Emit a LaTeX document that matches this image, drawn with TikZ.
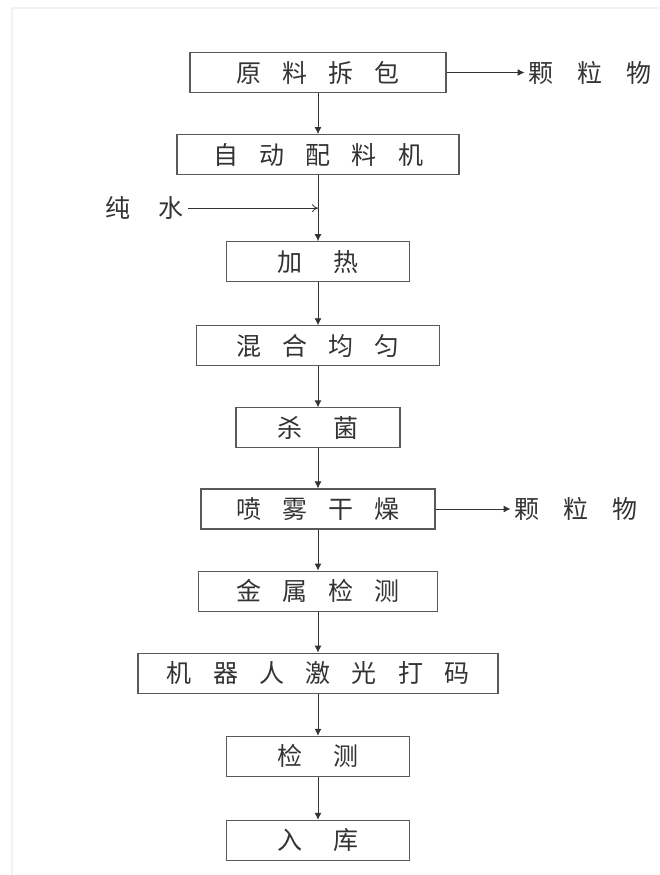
\documentclass[tikz,border=0pt]{standalone}
\usepackage{fontspec}
\newfontfamily\cjk{Noto Sans CJK SC}
\usetikzlibrary{arrows.meta,calc,positioning}
\newcommand{\kgap}{\hspace{0.85em}}
\newcommand{\wgap}{\hspace{1.25em}}

\begin{document}
\begin{tikzpicture}[>=Latex,x=1pt,y=1pt,node distance=41pt]
  \tikzstyle{box}=[draw=black!65,line width=1.1pt,minimum height=40pt,inner sep=0pt,font=\cjk\fontsize{25}{28}\selectfont,text=black!80]
  \tikzstyle{lbl}=[inner sep=4pt,font=\cjk\fontsize{25}{28}\selectfont,text=black!80]
  \tikzstyle{flow}=[draw=black!80,line width=0.9pt,-{Latex[length=7pt,width=7pt]}]
  \useasboundingbox (0,0) rectangle (659,-875);
  \draw[gray!10,line width=1.5pt] (12,-875) -- (12,-8) -- (659,-8);

  \node[box,minimum width=256pt] (unpack) at (318,-72.5) {原\kgap{}料\kgap{}拆\kgap{}包};
  \node[box,minimum width=282pt,below=of unpack] (batch) {自\kgap{}动\kgap{}配\kgap{}料\kgap{}机};
  \node[box,minimum width=183pt,below=66pt of batch] (heat) {加\wgap{}热};
  \node[box,minimum width=243pt,below=43pt of heat] (mix) {混\kgap{}合\kgap{}均\kgap{}匀};
  \node[box,minimum width=164pt,below=of mix] (sterilize) {杀\wgap{}菌};
  \node[box,minimum width=234pt,below=40pt of sterilize] (spray) {喷\kgap{}雾\kgap{}干\kgap{}燥};
  \node[box,minimum width=239pt,below=of spray] (metal) {金\kgap{}属\kgap{}检\kgap{}测};
  \node[box,minimum width=360pt,below=of metal] (laser) {机\kgap{}器\kgap{}人\kgap{}激\kgap{}光\kgap{}打\kgap{}码};
  \node[box,minimum width=183pt,below=42pt of laser] (check) {检\wgap{}测};
  \node[box,minimum width=183pt,below=43pt of check] (store) {入\wgap{}库};

  % side streams
  \node[lbl,right=78pt of unpack] (grain1) {颗\hspace{0.95em}粒\hspace{0.95em}物};
  \node[lbl,right=75pt of spray] (grain2) {颗\hspace{0.95em}粒\hspace{0.95em}物};
  \coordinate (inlet) at ($(batch.south)+(0,-33)$);
  \node[lbl,left=130pt of inlet] (water) {纯\hspace{1.15em}水};

  \draw[flow] (unpack) -- (batch);
  \draw[flow] (batch) -- (heat);
  \draw[flow] (heat) -- (mix);
  \draw[flow] (mix) -- (sterilize);
  \draw[flow] (sterilize) -- (spray);
  \draw[flow] (spray) -- (metal);
  \draw[flow] (metal) -- (laser);
  \draw[flow] (laser) -- (check);
  \draw[flow] (check) -- (store);
  \draw[flow] (unpack) -- (grain1);
  \draw[flow] (spray) -- (grain2);
  \draw[draw=black!80,line width=0.8pt,-{To[length=6pt,width=8pt]}] (water) -- (inlet);
\end{tikzpicture}
\end{document}
